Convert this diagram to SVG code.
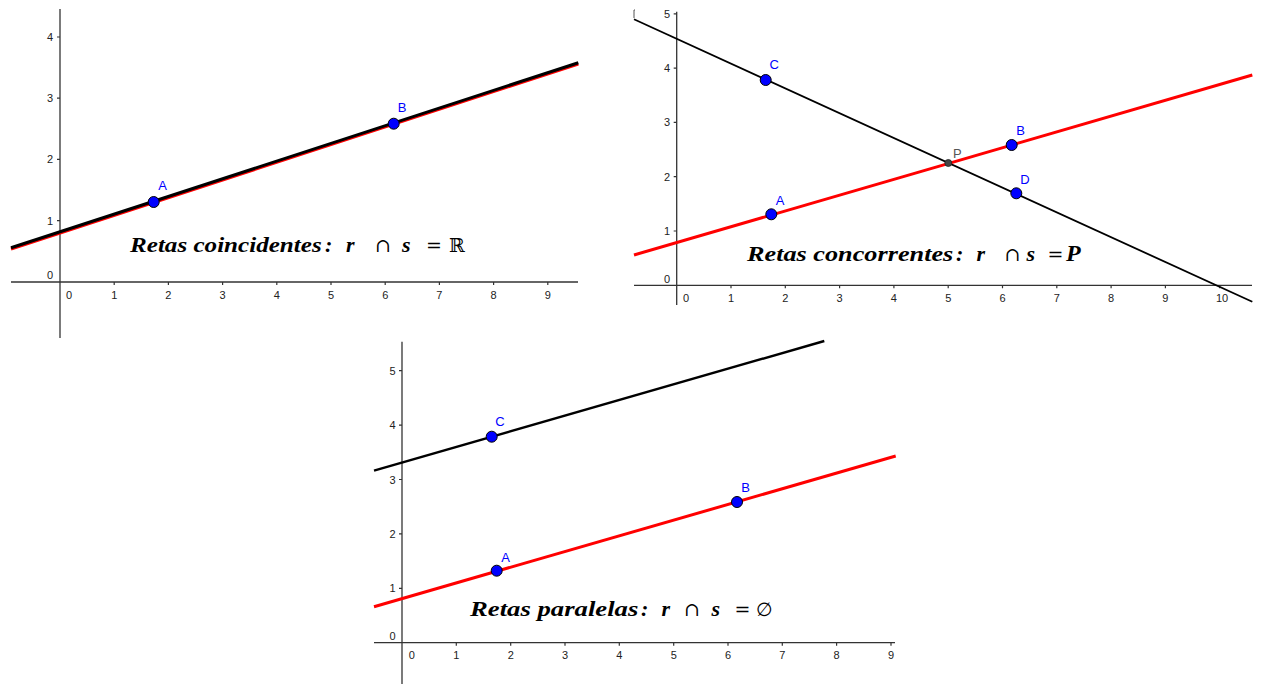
<svg xmlns="http://www.w3.org/2000/svg" width="1262" height="684" viewBox="0 0 1262 684">
<style>
.ax{stroke:#333;stroke-width:1.3;fill:none}
.tk{stroke:#333;stroke-width:1.2}
.tl{font-family:"Liberation Sans",Arial,sans-serif;font-size:11px;fill:#222}
.tly{text-anchor:end}
.tlx{text-anchor:middle}
.blk{stroke:#000;stroke-width:2.2;fill:none}
.red{stroke:#f00;stroke-width:3;fill:none}
.pt{fill:#0000ff;stroke:#000;stroke-width:1}
.pl{font-family:"Liberation Sans",Arial,sans-serif;font-size:13px;fill:#0000ff;text-anchor:middle}
.mt{font-family:"Liberation Serif","Times New Roman",serif;font-style:italic;font-weight:bold;font-size:22px;fill:#000}
.mu{font-family:"DejaVu Serif","Liberation Serif",serif;font-style:normal;font-weight:normal;font-size:19px;fill:#000}
</style>
<rect width="1262" height="684" fill="#fff"/>

<!-- Panel 1 -->
<g id="panel1">
  <g id="axes1">
    <line class="ax" x1="11" y1="282" x2="578" y2="282"/>
    <line class="ax" x1="60" y1="9" x2="60" y2="338"/>
    <path class="tk" d="M114.2 282v3M168.4 282v3M222.6 282v3M276.8 282v3M331 282v3M385.2 282v3M439.4 282v3M493.6 282v3M547.8 282v3M57 220.6h3M57 159.4h3M57 98.2h3M57 37h3"/>
    <g class="tl tlx">
      <text x="69" y="299">0</text><text x="114.2" y="299">1</text><text x="168.4" y="299">2</text><text x="222.6" y="299">3</text><text x="276.8" y="299">4</text><text x="331" y="299">5</text><text x="385.2" y="299">6</text><text x="439.4" y="299">7</text><text x="493.6" y="299">8</text><text x="547.8" y="299">9</text>
    </g>
    <g class="tl tly">
      <text x="53" y="279">0</text><text x="53" y="224.6">1</text><text x="53" y="163.4">2</text><text x="53" y="102.2">3</text><text x="53" y="41">4</text>
    </g>
  </g>
  <g id="lines1">
    <line class="red" x1="11" y1="249" x2="578.3" y2="64"/>
    <line class="blk" x1="11" y1="247.7" x2="578.3" y2="62.7" style="stroke-width:3"/>
  </g>
  <g id="p1A"><circle class="pt" cx="153.7" cy="202" r="5.5"/><text class="pl" x="162.7" y="190">A</text></g>
  <g id="p1B"><circle class="pt" cx="393.7" cy="123.7" r="5.5"/><text class="pl" x="402" y="111.5">B</text></g>
  <g id="label1">
    <text class="mt" x="130" y="252" textLength="191.7" lengthAdjust="spacingAndGlyphs">Retas coincidentes</text>
    <text class="mt" y="252"><tspan x="325">:</tspan><tspan x="346">r</tspan><tspan class="mu" x="375">∩</tspan><tspan x="402">s</tspan><tspan class="mu" x="426">=</tspan><tspan class="mu" x="449">ℝ</tspan></text>
  </g>
</g>

<!-- Panel 2 -->
<g id="panel2">
  <g id="axes2">
    <line class="ax" x1="634" y1="285.3" x2="1252" y2="285.3"/>
    <line class="ax" x1="676.7" y1="11.7" x2="676.7" y2="305"/>
    <path class="tk" d="M731 285.3v3M785.3 285.3v3M839.6 285.3v3M893.9 285.3v3M948.2 285.3v3M1002.5 285.3v3M1056.8 285.3v3M1111.1 285.3v3M1165.4 285.3v3M1219.7 285.3v3M673.7 231h3M673.7 176.7h3M673.7 122.4h3M673.7 68.1h3M673.7 13.8h3"/>
    <g class="tl tlx">
      <text x="686" y="301.5">0</text><text x="731" y="301.5">1</text><text x="785.3" y="301.5">2</text><text x="839.6" y="301.5">3</text><text x="893.9" y="301.5">4</text><text x="948.2" y="301.5">5</text><text x="1002.5" y="301.5">6</text><text x="1056.8" y="301.5">7</text><text x="1111.1" y="301.5">8</text><text x="1165.4" y="301.5">9</text><text x="1222" y="301.5">10</text>
    </g>
    <g class="tl tly">
      <text x="670" y="283">0</text><text x="670" y="235">1</text><text x="670" y="180.7">2</text><text x="670" y="126.4">3</text><text x="670" y="72.1">4</text><text x="670" y="17.8">5</text>
    </g>
    <path d="M634 18V10h1" stroke="#555" stroke-width="1" fill="none"/>
  </g>
  <g id="lines2">
    <line class="blk" x1="634" y1="19.3" x2="1252.3" y2="301.7" style="stroke-width:1.8"/>
    <line class="red" x1="634" y1="255" x2="1252.3" y2="75"/>
  </g>
  <g id="p2C"><circle class="pt" cx="765.7" cy="80" r="5.5"/><text class="pl" x="774.3" y="69">C</text></g>
  <g id="p2A"><circle class="pt" cx="771.3" cy="214.3" r="5.5"/><text class="pl" x="780" y="205">A</text></g>
  <g id="p2B"><circle class="pt" cx="1011.7" cy="145" r="5.5"/><text class="pl" x="1020.7" y="134.5">B</text></g>
  <g id="p2D"><circle class="pt" cx="1016.3" cy="193.3" r="5.5"/><text class="pl" x="1025" y="183.8">D</text></g>
  <g id="p2P"><circle cx="948.3" cy="163" r="3.5" fill="#444" stroke="#222" stroke-width="0.8"/><text class="pl" x="957.3" y="157.5" style="fill:#555">P</text></g>
  <g id="label2">
    <text class="mt" x="747" y="261" textLength="206.3" lengthAdjust="spacingAndGlyphs">Retas concorrentes</text>
    <text class="mt" y="261"><tspan x="956">:</tspan><tspan x="976.5">r</tspan><tspan class="mu" x="1004.5">∩</tspan><tspan x="1026.5">s</tspan><tspan class="mu" x="1047.5">=</tspan><tspan x="1066" style="font-size:24px">P</tspan></text>
  </g>
</g>

<!-- Panel 3 -->
<g id="panel3">
  <g id="axes3">
    <line class="ax" x1="374" y1="642.7" x2="895" y2="642.7"/>
    <line class="ax" x1="402" y1="341.7" x2="402" y2="684"/>
    <path class="tk" d="M456.3 642.7v3M510.7 642.7v3M565 642.7v3M619.3 642.7v3M673.7 642.7v3M728 642.7v3M782.3 642.7v3M836.6 642.7v3M891 642.7v3M399 588.3h3M399 533.9h3M399 479.5h3M399 425.1h3M399 370.7h3"/>
    <g class="tl tlx">
      <text x="411.7" y="658.5">0</text><text x="456.3" y="658.5">1</text><text x="510.7" y="658.5">2</text><text x="565" y="658.5">3</text><text x="619.3" y="658.5">4</text><text x="673.7" y="658.5">5</text><text x="728" y="658.5">6</text><text x="782.3" y="658.5">7</text><text x="836.6" y="658.5">8</text><text x="891" y="658.5">9</text>
    </g>
    <g class="tl tly">
      <text x="395.5" y="640">0</text><text x="395.5" y="592.3">1</text><text x="395.5" y="537.9">2</text><text x="395.5" y="483.5">3</text><text x="395.5" y="429.1">4</text><text x="395.5" y="374.7">5</text>
    </g>
  </g>
  <g id="lines3">
    <line class="blk" x1="374" y1="470.7" x2="824.3" y2="341" style="stroke-width:2.4"/>
    <line class="red" x1="374" y1="606.7" x2="895.7" y2="456"/>
  </g>
  <g id="p3C"><circle class="pt" cx="491.7" cy="436.7" r="5.5"/><text class="pl" x="500" y="426">C</text></g>
  <g id="p3A"><circle class="pt" cx="496.7" cy="570.7" r="5.5"/><text class="pl" x="505.7" y="561.5">A</text></g>
  <g id="p3B"><circle class="pt" cx="737" cy="502" r="5.5"/><text class="pl" x="745.7" y="491.5">B</text></g>
  <g id="label3">
    <text class="mt" x="470" y="616" textLength="168.3" lengthAdjust="spacingAndGlyphs">Retas paralelas</text>
    <text class="mt" y="616"><tspan x="641">:</tspan><tspan x="661.5">r</tspan><tspan class="mu" x="684">∩</tspan><tspan x="711.5">s</tspan><tspan class="mu" x="734.5">=</tspan><tspan class="mu" x="756">∅</tspan></text>
  </g>
</g>
</svg>
